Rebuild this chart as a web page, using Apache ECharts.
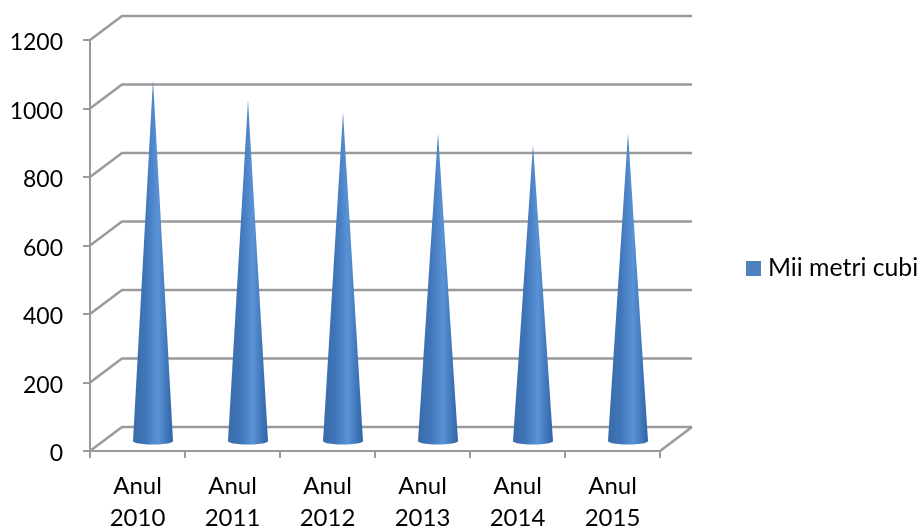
<!DOCTYPE html>
<html>
<head>
<meta charset="utf-8">
<style>html,body{margin:0;padding:0;background:#fff}#c{width:918px;height:526px}</style>
<script src="https://cdn.jsdelivr.net/npm/echarts@6/dist/echarts.min.js"></script>
</head>
<body>
<div id="c"></div>
<script>
const categories = ['Anul\n2010','Anul\n2011','Anul\n2012','Anul\n2013','Anul\n2014','Anul\n2015'];
const values = [1055, 995, 960, 900, 865, 900];
const yTicks = [0, 200, 400, 600, 800, 1000, 1200];
const seriesName = 'Mii metri cubi';

const FONT = 'Lato';
const GREY = '#9a9a9a';
const DEPTH_X = 32, DEPTH_Y = -24;
const chart = echarts.init(document.getElementById('c'));

function wallItem(params, api) {
  const cs = params.coordSys;
  const y = api.coord([0, api.value(1)])[1];
  const x0 = cs.x, x1 = cs.x + cs.width;
  const style = { stroke: GREY, lineWidth: 2.4, fill: null };
  const children = [
    { type: 'polyline', shape: { points: [[x0, y], [x0 + DEPTH_X, y + DEPTH_Y], [x1 + DEPTH_X, y + DEPTH_Y]] }, style }
  ];
  if (api.value(1) === 0) {
    children.push({ type: 'line', shape: { x1: x1, y1: y, x2: x1 + DEPTH_X, y2: y + DEPTH_Y }, style });
  }
  return { type: 'group', children };
}

function coneItem(params, api) {
  const top = api.coord([api.value(0), api.value(1)]);
  const base = api.coord([api.value(0), 0]);
  const cx = base[0] + 15.5, by = base[1] - 10, ty = top[1] - 10;
  const rx = 20, ry = 3.5;
  const pts = [[cx, ty]];
  for (let i = 0; i <= 24; i++) {
    const a = Math.PI * i / 24;
    pts.push([cx + rx * Math.cos(Math.PI - a), by + ry * Math.sin(a)]);
  }
  return {
    type: 'polygon',
    shape: { points: pts },
    style: {
      fill: {
        type: 'linear', x: 0, y: 0, x2: 1, y2: 0,
        colorStops: [
          { offset: 0, color: '#3a6ba8' },
          { offset: 0.3, color: '#3f75b8' },
          { offset: 0.62, color: '#5a92d6' },
          { offset: 1, color: '#2f64a6' }
        ]
      }
    }
  };
}

chart.setOption({
  animation: false,
  backgroundColor: '#fff',
  grid: { left: 90, top: 40, width: 570, height: 411, containLabel: false, outerBoundsMode: 'none' },
  legend: {
    data: [seriesName],
    orient: 'vertical',
    left: 746,
    top: 256,
    itemWidth: 15,
    itemHeight: 15,
    itemGap: 0,
    icon: 'rect',
    selectedMode: false,
    textStyle: { fontFamily: FONT, fontSize: 24.8, color: '#000', padding: [0, 0, 0, 2] },
    padding: 0
  },
  xAxis: {
    type: 'category',
    data: categories,
    boundaryGap: true,
    axisLine: { lineStyle: { color: GREY, width: 2 } },
    axisTick: { show: true, length: 7, alignWithLabel: false, lineStyle: { color: GREY, width: 2 } },
    axisLabel: { fontFamily: FONT, fontSize: 24, lineHeight: 32, color: '#000', margin: 19, interval: 0 }
  },
  yAxis: {
    type: 'value',
    min: 0,
    max: 1200,
    interval: 200,
    splitLine: { show: false },
    axisLine: { show: true, lineStyle: { color: GREY, width: 2 } },
    axisTick: { show: true, length: 7, lineStyle: { color: GREY, width: 2 } },
    axisLabel: {
      color: '#000', margin: 27,
      formatter: function (v) { return '{v|' + v + '}'; },
      rich: { v: { fontFamily: FONT, fontSize: 23, color: '#000', padding: [6, 0, 0, 0], verticalAlign: 'bottom' } }
    }
  },
  series: [
    {
      type: 'custom',
      name: 'walls',
      clip: false,
      silent: true,
      z: 1,
      renderItem: wallItem,
      encode: { x: 0, y: 1 },
      data: yTicks.map(v => [0, v])
    },
    {
      type: 'custom',
      name: seriesName,
      clip: false,
      z: 3,
      itemStyle: { color: '#4f81bd' },
      renderItem: coneItem,
      encode: { x: 0, y: 1 },
      data: values.map((v, i) => [i, v])
    }
  ]
});
</script>
</body>
</html>
